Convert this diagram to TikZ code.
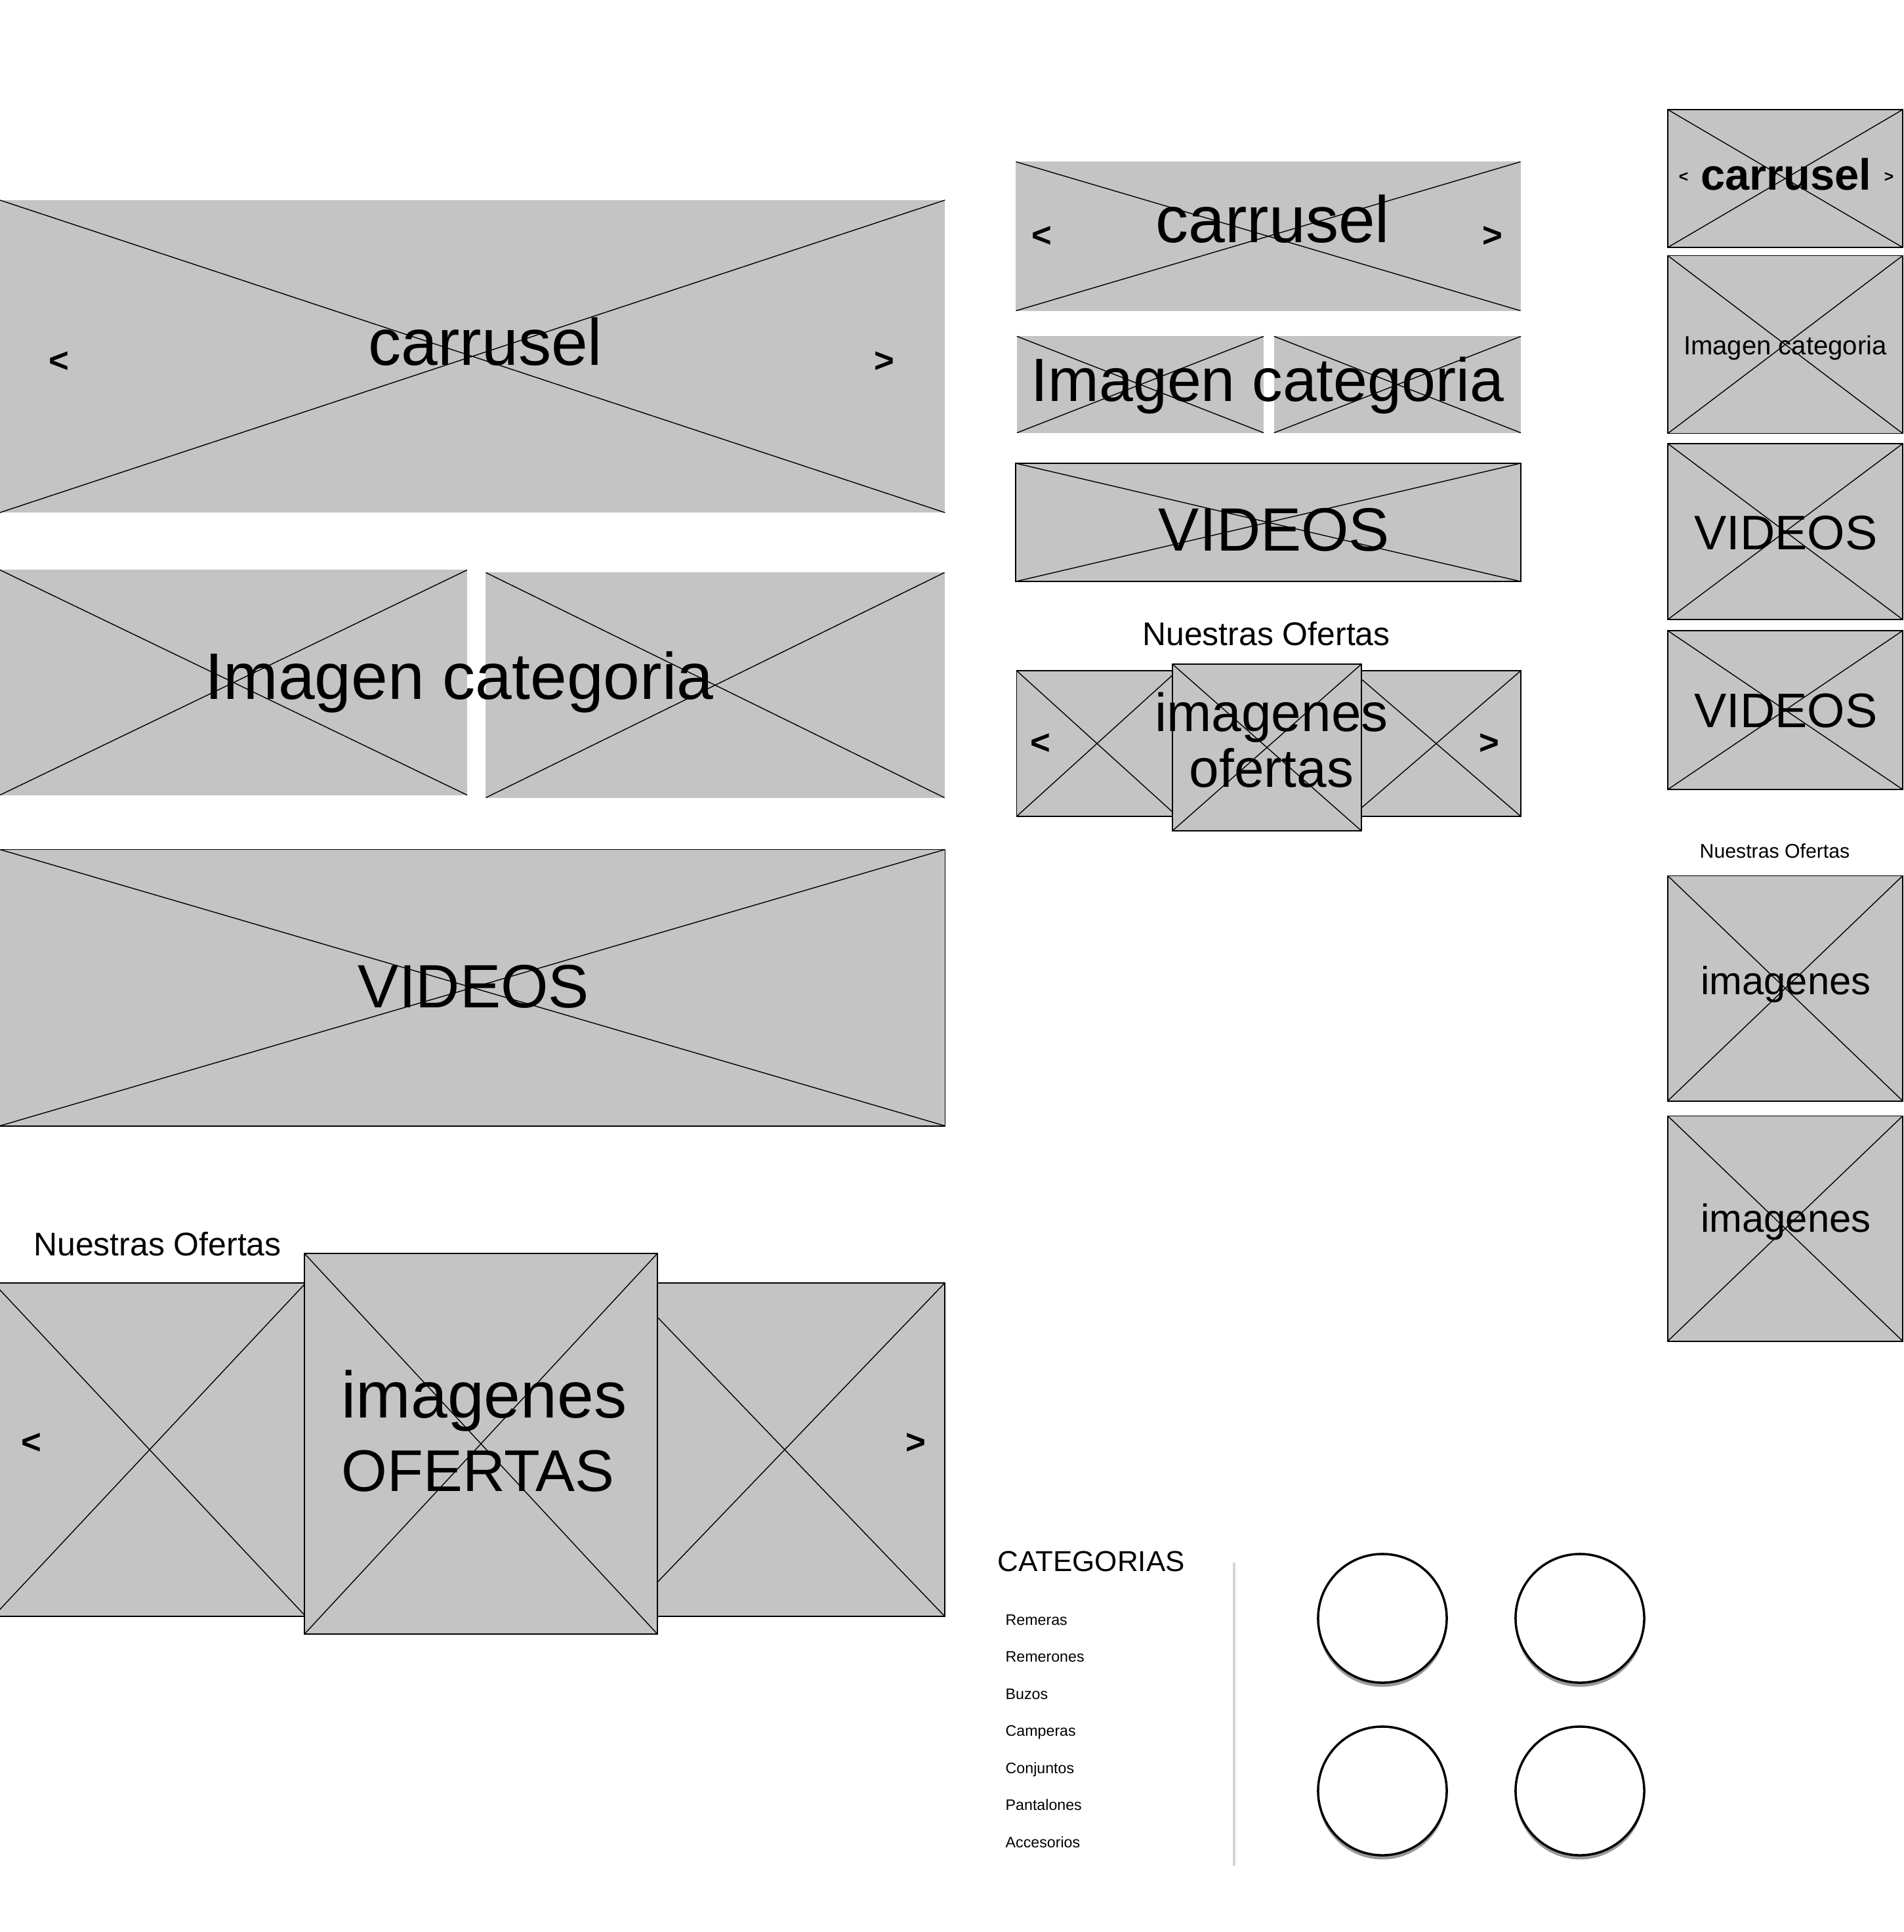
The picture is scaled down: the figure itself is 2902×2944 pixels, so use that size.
\documentclass[tikz,border=0pt]{standalone}
\usepackage{fontspec}
\setmainfont{Liberation Sans}
\usetikzlibrary{shadows}
\definecolor{phgray}{RGB}{196,196,196}
\definecolor{sepgray}{RGB}{214,214,214}

\begin{document}
\begin{tikzpicture}[x=0.01cm, y=-0.01cm,
  imgbox/.style={rectangle, fill=phgray, inner sep=0pt, path picture={
      \draw[line width=0.4pt] (path picture bounding box.north west) -- (path picture bounding box.south east)
        (path picture bounding box.south west) -- (path picture bounding box.north east);}},
  imgframe/.style={imgbox, draw=black, line width=0.5pt},
  bigtxt/.style={anchor=base, inner sep=0pt, font=\fontsize{28.5}{34}\selectfont},
  captxt/.style={anchor=base, inner sep=0pt, font=\fontsize{26.5}{32}\selectfont},
  midtxt/.style={anchor=base, inner sep=0pt, font=\fontsize{23.3}{28}\selectfont},
  headtxt/.style={anchor=base, inner sep=0pt, font=\fontsize{14.2}{17}\selectfont},
  arrtxt/.style={inner sep=0pt, font=\fontsize{15}{18}\selectfont\bfseries},
  smallarr/.style={inner sep=0pt, font=\fontsize{7}{8}\selectfont\bfseries},
  listtxt/.style={anchor=base west, inner sep=0pt, font=\fontsize{6.6}{8}\selectfont},
  catcircle/.style={circle, draw=black, line width=1pt, fill=white, minimum size=1.96cm,
      drop shadow={shadow xshift=0pt, shadow yshift=-1.8pt, opacity=0.4, fill=black}}]

  \useasboundingbox (0,0) rectangle (2902,2944);

  % Desktop: carrusel
  \node[imgbox, minimum width=14.40cm, minimum height=4.76cm] (carL) at (720,543) {};
  \node[bigtxt] (carLtxt) at (740,556) {carrusel};
  \node[arrtxt] (carLprev) at (90,552) {<};
  \node[arrtxt] (carLnext) at (1348,552) {>};

  % Desktop: imagen categoria
  \node[imgbox, minimum width=7.12cm, minimum height=3.43cm] (catL1) at (356,1040) {};
  \node[imgbox, minimum width=6.99cm, minimum height=3.43cm] (catL2) at (1090,1044) {};
  \node[bigtxt] (catLtxt) at (700,1065) {Imagen categoria};

  % Desktop: videos
  \node[imgframe, minimum width=14.40cm, minimum height=4.21cm] (vidL) at (720,1505) {};
  \node[captxt] (vidLtxt) at (722,1535) {VIDEOS};

  % Desktop: ofertas
  \node[headtxt] (ofLtitle) at (240,1913) {Nuestras Ofertas};
  \node[imgframe, minimum width=4.76cm, minimum height=5.08cm] (ofL1) at (228,2209) {};
  \node[imgframe, minimum width=4.88cm, minimum height=5.08cm] (ofL3) at (1196,2209) {};
  \node[imgframe, minimum width=5.38cm, minimum height=5.80cm] (ofL2) at (733,2200) {};
  \node[bigtxt, anchor=base west] (ofL2txt1) at (520,2160) {imagenes};
  \node[anchor=base west, inner sep=0pt, font=\fontsize{25.5}{30}\selectfont] (ofL2txt2) at (520,2272) {OFERTAS};
  \node[arrtxt] (ofLprev) at (48,2200) {<};
  \node[arrtxt] (ofLnext) at (1396,2200) {>};

  % Tablet: carrusel
  \node[imgbox, minimum width=7.69cm, minimum height=2.27cm] (carM) at (1933,360) {};
  \node[bigtxt] (carMtxt) at (1940,369) {carrusel};
  \node[arrtxt] (carMprev) at (1588,361) {<};
  \node[arrtxt] (carMnext) at (2275,361) {>};

  % Tablet: imagen categoria
  \node[imgbox, minimum width=3.76cm, minimum height=1.47cm] (catM1) at (1738,586) {};
  \node[imgbox, minimum width=3.76cm, minimum height=1.47cm] (catM2) at (2130,586) {};
  \node[captxt] (catMtxt) at (1932,611) {Imagen categoria};

  % Tablet: videos
  \node[imgframe, minimum width=7.69cm, minimum height=1.80cm] (vidM) at (1933,796) {};
  \node[captxt] (vidMtxt) at (1942,839) {VIDEOS};

  % Tablet: ofertas
  \node[headtxt] (ofMtitle) at (1930,983) {Nuestras Ofertas};
  \node[imgframe, minimum width=2.45cm, minimum height=2.22cm] (ofM1) at (1672,1133) {};
  \node[imgframe, minimum width=2.58cm, minimum height=2.22cm] (ofM3) at (2189,1133) {};
  \node[imgframe, minimum width=2.88cm, minimum height=2.54cm] (ofM2) at (1931,1139) {};
  \node[midtxt] (ofM2txt1) at (1938,1114) {imagenes};
  \node[midtxt] (ofM2txt2) at (1938,1199) {ofertas};
  \node[arrtxt] (ofMprev) at (1586,1134) {<};
  \node[arrtxt] (ofMnext) at (2270,1134) {>};

  % Mobile column
  \node[imgframe, minimum width=3.58cm, minimum height=2.10cm] (carR) at (2721,272) {};
  \node[anchor=base, inner sep=0pt, font=\fontsize{19}{23}\selectfont\bfseries] (carRtxt) at (2722,289) {carrusel};
  \node[smallarr] (carRprev) at (2566,270) {<};
  \node[smallarr] (carRnext) at (2879,270) {>};

  \node[imgframe, minimum width=3.58cm, minimum height=2.71cm] (catR) at (2721,525) {};
  \node[anchor=base, inner sep=0pt, font=\fontsize{11.4}{14}\selectfont] (catRtxt) at (2721,540) {Imagen categoria};

  \node[imgframe, minimum width=3.58cm, minimum height=2.68cm] (vidR1) at (2721,810) {};
  \node[anchor=base, inner sep=0pt, font=\fontsize{21}{26}\selectfont] (vidR1txt) at (2722,837) {VIDEOS};
  \node[imgframe, minimum width=3.58cm, minimum height=2.42cm] (vidR2) at (2721,1082) {};
  \node[anchor=base, inner sep=0pt, font=\fontsize{21}{26}\selectfont] (vidR2txt) at (2722,1108) {VIDEOS};

  \node[anchor=base, inner sep=0pt, font=\fontsize{8.6}{10}\selectfont] (ofRtitle) at (2705,1307) {Nuestras Ofertas};
  \node[imgframe, minimum width=3.58cm, minimum height=3.43cm] (imgR1) at (2721,1506) {};
  \node[anchor=base, inner sep=0pt, font=\fontsize{17}{20}\selectfont] (imgR1txt) at (2722,1515) {imagenes};
  \node[imgframe, minimum width=3.58cm, minimum height=3.43cm] (imgR2) at (2721,1872) {};
  \node[anchor=base, inner sep=0pt, font=\fontsize{17}{20}\selectfont] (imgR2txt) at (2722,1877) {imagenes};

  % Categorias menu
  \node[anchor=base west, inner sep=0pt, font=\fontsize{12.5}{15}\selectfont] (catTitle) at (1520,2394) {CATEGORIAS};
  \node[listtxt] (catRemeras) at (1532,2476) {Remeras};
  \node[listtxt] (catRemerones) at (1532,2532) {Remerones};
  \node[listtxt] (catBuzos) at (1532,2589) {Buzos};
  \node[listtxt] (catCamperas) at (1532,2645) {Camperas};
  \node[listtxt] (catConjuntos) at (1532,2702) {Conjuntos};
  \node[listtxt] (catPantalones) at (1532,2758) {Pantalones};
  \node[listtxt] (catAccesorios) at (1532,2815) {Accesorios};

  \coordinate (sepTop) at (1881,2381);
  \coordinate (sepBot) at (1881,2843);
  \draw[sepgray, line width=1.1pt] (sepTop) -- (sepBot);

  % Category circles
  \node[catcircle] (circ1) at (2107,2466) {};
  \node[catcircle] (circ2) at (2408,2466) {};
  \node[catcircle] (circ3) at (2107,2729) {};
  \node[catcircle] (circ4) at (2408,2729) {};
\end{tikzpicture}
\end{document}
